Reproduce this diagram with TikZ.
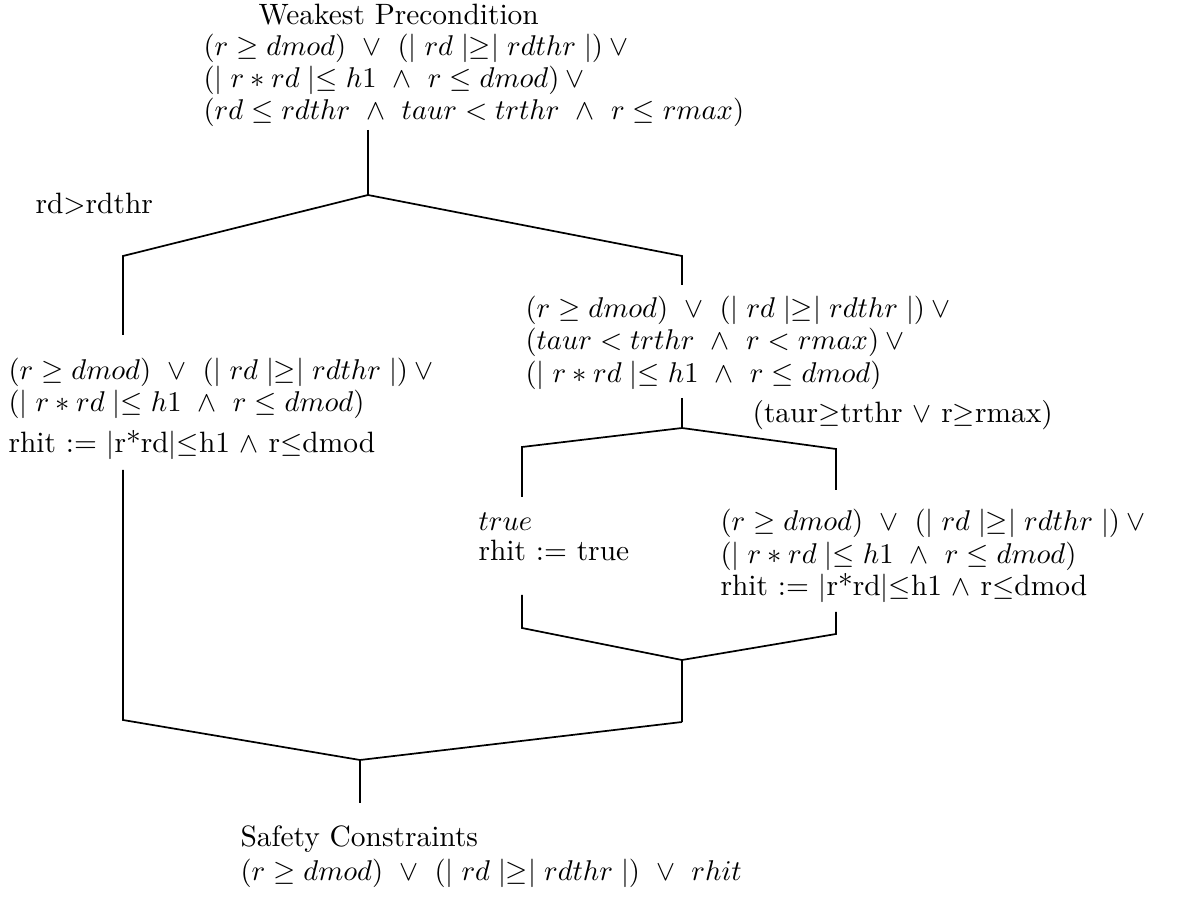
\documentclass[tikz,border=0pt]{standalone}
\begin{document}
\begin{tikzpicture}[x=0.35pt,y=-0.35pt,
  txt/.style={anchor=base west,inner sep=0pt,font=\fontsize{10.3}{12}\selectfont},
  ln/.style={line width=0.6pt,line join=miter}]
\useasboundingbox (0,0) rectangle (1186,898);
% top block
\node[txt] (wp) at (258,25) {Weakest Precondition};
\node[txt] (t2) at (203,56) {$(r \geq dmod)\ \vee\ (\mid rd \mid\geq\mid rdthr \mid)\vee{}$};
\node[txt] (t3) at (203,88) {$(\mid r \ast rd \mid\leq h1\ \wedge\ r \leq dmod)\vee{}$};
\node[txt] (t4) at (203,120) {$(rd \leq rdthr\ \wedge\ taur < trthr\ \wedge\ r \leq rmax)$};
\node[txt] (lab1) at (35,214) {rd$>$rdthr};
% right block
\node[txt] (r1) at (525,318) {$(r \geq dmod)\ \vee\ (\mid rd \mid\geq\mid rdthr \mid)\vee{}$};
\node[txt] (r2) at (525,350) {$(taur < trthr\ \wedge\ r < rmax)\vee{}$};
\node[txt] (r3) at (525,382) {$(\mid r \ast rd \mid\leq h1\ \wedge\ r \leq dmod)$};
\node[txt] (lab2) at (752,423) {(taur$\geq$trthr $\vee$ r$\geq$rmax)};
% left block
\node[txt] (l1) at (8,380) {$(r \geq dmod)\ \vee\ (\mid rd \mid\geq\mid rdthr \mid)\vee{}$};
\node[txt] (l2) at (8,412) {$(\mid r \ast rd \mid\leq h1\ \wedge\ r \leq dmod)$};
\node[txt] (l3) at (8,453) {rhit := $|$r*rd$|$$\leq$h1 $\wedge$ r$\leq$dmod};
% inner left
\node[txt] (s1) at (478,531) {$true$};
\node[txt] (s2) at (478,561) {rhit := true};
% inner right
\node[txt] (q1) at (720,530) {$(r \geq dmod)\ \vee\ (\mid rd \mid\geq\mid rdthr \mid)\vee{}$};
\node[txt] (q2) at (720,564) {$(\mid r \ast rd \mid\leq h1\ \wedge\ r \leq dmod)$};
\node[txt] (q3) at (720,596) {rhit := $|$r*rd$|$$\leq$h1 $\wedge$ r$\leq$dmod};
% bottom
\node[txt] (sc) at (240,846) {Safety Constraints};
\node[txt] (s5) at (240,881) {$(r \geq dmod)\ \vee\ (\mid rd \mid\geq\mid rdthr \mid)\ \vee\ rhit$};
% coordinates
\coordinate (a0) at (368,130);
\coordinate (a1) at (368,195);
\coordinate (b1) at (123,256);
\coordinate (b2) at (123,335);
\coordinate (c1) at (682,256);
\coordinate (c2) at (682,285);
\coordinate (d0) at (682,398);
\coordinate (d1) at (682,428);
\coordinate (e1) at (522,447);
\coordinate (e2) at (522,497);
\coordinate (f1) at (836,449);
\coordinate (f2) at (836,490);
\coordinate (g0) at (522,595);
\coordinate (g1) at (522,628);
\coordinate (h0) at (836,612);
\coordinate (h1) at (836,634);
\coordinate (k1) at (682,660);
\coordinate (k2) at (682,722);
\coordinate (m0) at (123,470);
\coordinate (m1) at (123,720);
\coordinate (n1) at (360,760);
\coordinate (n2) at (360,803);
\draw[ln] (a0) -- (a1);
\draw[ln] (b2) -- (b1) -- (a1) -- (c1) -- (c2);
\draw[ln] (d0) -- (d1);
\draw[ln] (e2) -- (e1) -- (d1) -- (f1) -- (f2);
\draw[ln] (g0) -- (g1) -- (k1) -- (h1) -- (h0);
\draw[ln] (k1) -- (k2);
\draw[ln] (m0) -- (m1) -- (n1) -- (k2);
\draw[ln] (n1) -- (n2);
\end{tikzpicture}
\end{document}
